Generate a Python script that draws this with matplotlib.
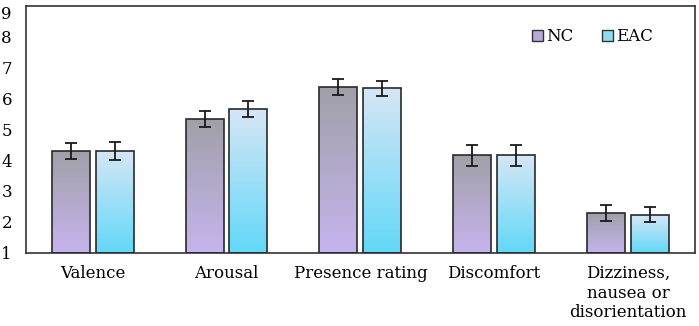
import numpy as np
import matplotlib
matplotlib.use("Agg")
import matplotlib.pyplot as plt
from matplotlib.colors import LinearSegmentedColormap
from matplotlib.patches import Patch
from matplotlib.transforms import ScaledTranslation

plt.rcParams['font.family'] = ['DejaVu Serif']

categories = ['Valence', 'Arousal', 'Presence rating', 'Discomfort',
              'Dizziness,\nnausea or\ndisorientation']
nc_mean = [4.30, 5.32, 6.36, 4.15, 2.27]
nc_err = [0.27, 0.26, 0.26, 0.33, 0.26]
eac_mean = [4.30, 5.65, 6.33, 4.15, 2.23]
eac_err = [0.29, 0.26, 0.24, 0.33, 0.24]

# gradient colours: (top, bottom)
nc_cols = ('#a0a0a8', '#c6b4ee')
eac_cols = ('#d6e6f6', '#62d8f8')

fig, ax = plt.subplots(figsize=(6.99, 3.26), dpi=100)
fig.subplots_adjust(left=0.037, right=0.994, top=0.982, bottom=0.225)

x = np.arange(len(categories))
w = 0.284
off = 0.164
base = 1


def grad_bars(xpos, vals, errs, cols):
    cmap = LinearSegmentedColormap.from_list('g', [cols[1], cols[0]])
    bars = ax.bar(xpos, np.array(vals) - base, w, bottom=base, facecolor='none',
                  edgecolor='#2a2a2a', linewidth=1.2, zorder=3)
    grad = np.linspace(0, 1, 256).reshape(-1, 1)
    for b in bars:
        x0, y0 = b.get_x(), b.get_y()
        im = ax.imshow(grad, cmap=cmap, origin='lower', aspect='auto',
                       extent=(x0, x0 + b.get_width(), y0, y0 + b.get_height()),
                       zorder=2)
        im.set_clip_path(b)
    ax.errorbar(xpos, vals, yerr=errs, fmt='none', ecolor='#1a1a1a',
                elinewidth=1.3, capsize=4, capthick=1.3, zorder=4)


grad_bars(x - off, nc_mean, nc_err, nc_cols)
grad_bars(x + off, eac_mean, eac_err, eac_cols)

ax.set_xlim(-0.5, 4.5)
ax.set_ylim(1, 9)
ax.set_yticks(range(1, 10))
ax.set_xticks(x)
ax.set_xticklabels(categories, fontsize=12)
ax.tick_params(axis='y', length=0, labelsize=12, pad=10)
ax.tick_params(axis='x', length=0, pad=9)
for s in ax.spines.values():
    s.set_color('#333333')
    s.set_linewidth(1.2)

# keep the top "9" inside the figure
top_lbl = ax.get_yticklabels()[-1]
top_lbl.set_transform(top_lbl.get_transform() +
                      ScaledTranslation(0, -5 / 72, fig.dpi_scale_trans))

handles = [Patch(facecolor='#b8a8dc', edgecolor='#333333', label='NC'),
           Patch(facecolor='#8edcf4', edgecolor='#333333', label='EAC')]
ax.legend(handles=handles, ncol=2, frameon=False, loc='upper right',
          bbox_to_anchor=(0.96, 0.97), fontsize=12, handlelength=0.65,
          handleheight=0.65, handletextpad=0.2, columnspacing=1.7)

fig.savefig('out.png', dpi=100)
